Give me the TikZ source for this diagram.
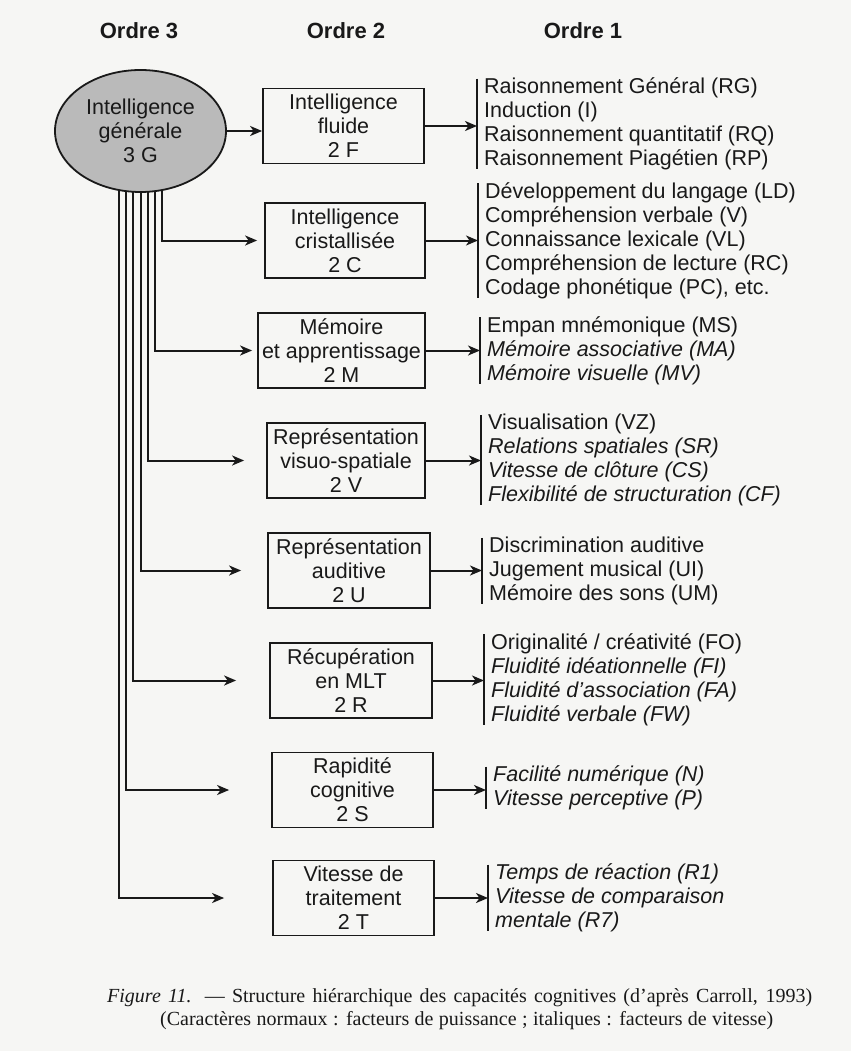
\documentclass[tikz,border=0pt]{standalone}
\usepackage{fontspec}
\setmainfont{Liberation Sans}
\newfontfamily\capfont{Liberation Serif}
\usetikzlibrary{shapes.geometric,arrows.meta,backgrounds}
\definecolor{paper}{RGB}{246,246,244}
\definecolor{ink}{RGB}{25,25,25}
\begin{document}
\begin{tikzpicture}[x=1pt,y=-1pt,
  every node/.style={font=\fontsize{21.5}{24}\selectfont, text=ink},
  ord2/.style={draw=ink, line width=1.8pt, minimum height=75pt, align=center, inner sep=0pt},
  facteurs/.style={anchor=west, align=left, inner xsep=7pt, inner ysep=-1pt},
  arr/.style={draw=ink, line width=2pt, -{Stealth[length=12pt,width=10pt,inset=3.5pt]}},
  fil/.style={draw=ink, line width=2pt},
  titre/.style={font=\fontsize{22}{24}\selectfont\bfseries},
  legende/.style={font=\capfont\fontsize{20}{23}\selectfont, anchor=west, inner sep=0pt},
]
\useasboundingbox (0,0) rectangle (851,1051);

% headers
\node[titre] (o3) at (139,31) {Ordre 3};
\node[titre] (o2) at (346,31) {Ordre 2};
\node[titre] (o1) at (583,31) {Ordre 1};

% order 3
\node[ellipse, draw=ink, line width=1.8pt, fill=black!27, minimum width=171pt, minimum height=122pt, inner sep=0pt, align=center] (E) at (140.5,131) {Intelligence\\générale\\3 G};

% order 2
\node[ord2, minimum width=161pt] (F) at (343.5,126) {Intelligence\\fluide\\2 F};
\node[ord2, minimum width=160pt] (C) at (345,240.5) {Intelligence\\cristallisée\\2 C};
\node[ord2, minimum width=167pt] (M) at (341.5,350.5) {Mémoire\\et apprentissage\\2 M};
\node[ord2, minimum width=158pt] (V) at (346,460.5) {Représentation\\visuo-spatiale\\2 V};
\node[ord2, minimum width=162pt] (U) at (349,570.5) {Représentation\\auditive\\2 U};
\node[ord2, minimum width=162pt] (R) at (351,680.5) {Récupération\\en MLT\\2 R};
\node[ord2, minimum width=161pt] (S) at (352.5,790) {Rapidité\\cognitive\\2 S};
\node[ord2, minimum width=161pt] (T) at (353.5,898) {Vitesse de\\traitement\\2 T};

% order 1
\node[facteurs] (LF) at (477,124) {Raisonnement Général (RG)\\Induction (I)\\Raisonnement quantitatif (RQ)\\Raisonnement Piagétien (RP)};
\node[facteurs] (LC) at (478,240.5) {Développement du langage (LD)\\Compréhension verbale (V)\\Connaissance lexicale (VL)\\Compréhension de lecture (RC)\\Codage phonétique (PC), etc.};
\node[facteurs] (LM) at (480,350.5) {Empan mnémonique (MS)\\\textit{Mémoire associative (MA)}\\\textit{Mémoire visuelle (MV)}};
\node[facteurs] (LV) at (481,460) {Visualisation (VZ)\\\textit{Relations spatiales (SR)}\\\textit{Vitesse de clôture (CS)}\\\textit{Flexibilité de structuration (CF)}};
\node[facteurs] (LU) at (482,571) {Discrimination auditive\\Jugement musical (UI)\\Mémoire des sons (UM)};
\node[facteurs] (LR) at (484,679.5) {Originalité / créativité (FO)\\\textit{Fluidité idéationnelle (FI)}\\\textit{Fluidité d'association (FA)}\\\textit{Fluidité verbale (FW)}};
\node[facteurs] (LS) at (486,788) {\textit{Facilité numérique (N)}\\\textit{Vitesse perceptive (P)}};
\node[facteurs] (LT) at (488,898) {\textit{Temps de réaction (R1)}\\\textit{Vitesse de comparaison}\\\textit{mentale (R7)}};

% brackets
\foreach \l in {LF,LC,LM,LV,LU,LR,LS,LT}
  \draw[fil] (\l.north west) -- (\l.south west);

% order 2 -> order 1
\foreach \b/\l in {F/LF,C/LC,M/LM,V/LV,U/LU,R/LR,S/LS,T/LT}
  \draw[arr] (\b.east) -- (\b.east -| \l.west);

% order 3 -> order 2
\draw[arr] (E.east) -- (E.east -| F.west);
\begin{scope}[on background layer]
  \fill[paper] (0,0) rectangle (851,1051);
  \draw[arr] ([xshift=21.9pt]E.center) |- ([xshift=-7pt]C.west);
  \draw[arr] ([xshift=14.6pt]E.center) |- ([xshift=-5pt]M.west);
  \draw[arr] ([xshift=7.3pt]E.center) |- ([xshift=-22pt]V.west);
  \draw[arr] ([xshift=0pt]E.center) |- ([xshift=-26pt]U.west);
  \draw[arr] ([xshift=-7.3pt]E.center) |- ([xshift=-33pt]R.west);
  \draw[arr] ([xshift=-14.6pt]E.center) |- ([xshift=-42pt]S.west);
  \draw[arr] ([xshift=-21.9pt]E.center) |- ([xshift=-48pt]T.west);
\end{scope}

% caption
\node[legende] (cap1) at (107,998) {\makebox[705pt][s]{\textit{Figure 11.} — Structure hiérarchique des capacités cognitives (d’après Carroll, 1993)}};
\node[legende] (cap2) at (160,1021) {\makebox[613pt][s]{(Caractères normaux : facteurs de puissance ; italiques : facteurs de vitesse)}};
\end{tikzpicture}
\end{document}
